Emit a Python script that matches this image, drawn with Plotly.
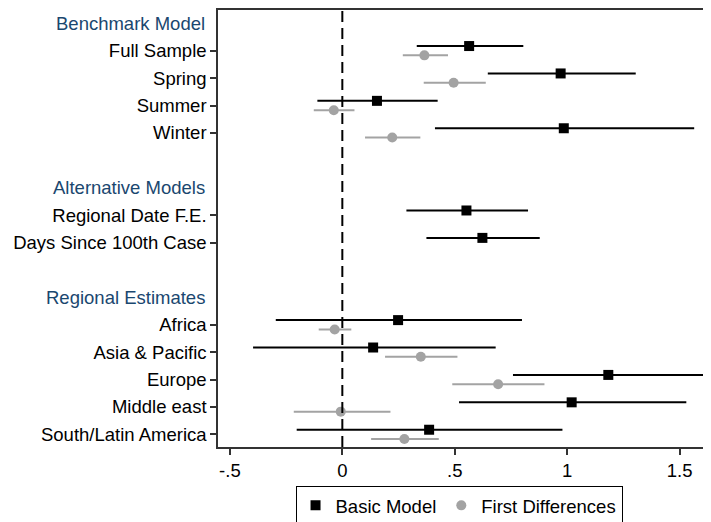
import plotly.graph_objects as go

# Row layout (slot index from top); headers and items
headers = ["Benchmark Model", "Alternative Models", "Regional Estimates"]
header_slots = [0, 6, 10]

labels = ["Full Sample", "Spring", "Summer", "Winter",
          "Regional Date F.E.", "Days Since 100th Case",
          "Africa", "Asia & Pacific", "Europe", "Middle east", "South/Latin America"]
label_slots = [1, 2, 3, 4, 7, 8, 11, 12, 13, 14, 15]

# Basic Model: point estimate, lower CI, upper CI
basic_est = [0.564, 0.971, 0.154, 0.985, 0.552, 0.623, 0.248, 0.137, 1.183, 1.020, 0.386]
basic_lo = [0.331, 0.647, -0.111, 0.412, 0.285, 0.374, -0.296, -0.397, 0.759, 0.519, -0.203]
basic_hi = [0.805, 1.305, 0.424, 1.565, 0.826, 0.878, 0.799, 0.682, 1.613, 1.530, 0.979]

# First Differences (not available for the alternative models)
fd_labels_idx = [0, 1, 2, 3, 6, 7, 8, 9, 10]
fd_est = [0.365, 0.495, -0.038, 0.222, -0.034, 0.349, 0.693, -0.007, 0.276]
fd_lo = [0.269, 0.362, -0.127, 0.101, -0.105, 0.190, 0.489, -0.216, 0.128]
fd_hi = [0.470, 0.638, 0.054, 0.347, 0.040, 0.512, 0.899, 0.214, 0.429]

xtick_vals = [-0.5, 0, 0.5, 1, 1.5]
xtick_text = ["-.5", "0", ".5", "1", "1.5"]

OFFSET = 0.17
FONT = "Liberation Sans, Arial, Helvetica, sans-serif"
FS = 18.5
HEAD_COLOR = "#1a476f"
GRAY = "#a3a3a3"

basic_y = [s - OFFSET for s in label_slots]
fd_y = [label_slots[i] + OFFSET for i in fd_labels_idx]

fig = go.Figure()
fig.add_trace(go.Scatter(
    x=basic_est, y=basic_y, mode="markers", name="Basic Model", legendgroup="basic",
    marker=dict(symbol="square", size=10, color="black"),
    error_x=dict(type="data", symmetric=False,
                 array=[h - e for h, e in zip(basic_hi, basic_est)],
                 arrayminus=[e - l for e, l in zip(basic_est, basic_lo)],
                 width=0, thickness=2, color="black"),
))
fig.add_trace(go.Scatter(
    x=fd_est, y=fd_y, mode="markers", name="First Differences", legendgroup="fd",
    marker=dict(symbol="circle", size=10, color=GRAY),
    error_x=dict(type="data", symmetric=False,
                 array=[h - e for h, e in zip(fd_hi, fd_est)],
                 arrayminus=[e - l for e, l in zip(fd_est, fd_lo)],
                 width=0, thickness=2, color=GRAY),
))

fig.add_shape(type="line", xref="x", yref="paper", x0=0, x1=0, y0=0, y1=1,
              line=dict(color="black", width=2, dash="11px,6px"))

for h, s in zip(headers, header_slots):
    fig.add_annotation(text=h, xref="paper", yref="y", x=0, y=s,
                       xanchor="right", yanchor="middle", xshift=-11,
                       showarrow=False, font=dict(family=FONT, size=FS, color=HEAD_COLOR))

fig.update_layout(
    width=711, height=522,
    margin=dict(l=210, r=3, t=2, b=83, autoexpand=False),
    paper_bgcolor="white", plot_bgcolor="white",
    font=dict(family=FONT, size=FS, color="black"),
    showlegend=True,
    legend=dict(orientation="h", x=0.484, xanchor="center",
                yref="container", y=0.008, yanchor="bottom",
                bordercolor="black", borderwidth=1, font=dict(family=FONT, size=FS),
                itemclick=False, tracegroupgap=34),
)
fig.update_xaxes(range=[-0.553, 1.662], tickvals=xtick_vals, ticktext=xtick_text,
                 ticks="outside", ticklen=6, tickwidth=1.5, tickcolor="#333",
                 showgrid=False, zeroline=False, showline=True, linecolor="#333",
                 linewidth=1.5, mirror=True, automargin=False)
fig.update_yaxes(range=[15.46, -0.485], tickvals=label_slots, ticktext=labels,
                 ticks="outside", ticklen=6, tickwidth=1.5, tickcolor="#333",
                 showgrid=False, zeroline=False, showline=True, linecolor="#333",
                 linewidth=1.5, mirror=True, automargin=False)

fig.write_html("out.html")
